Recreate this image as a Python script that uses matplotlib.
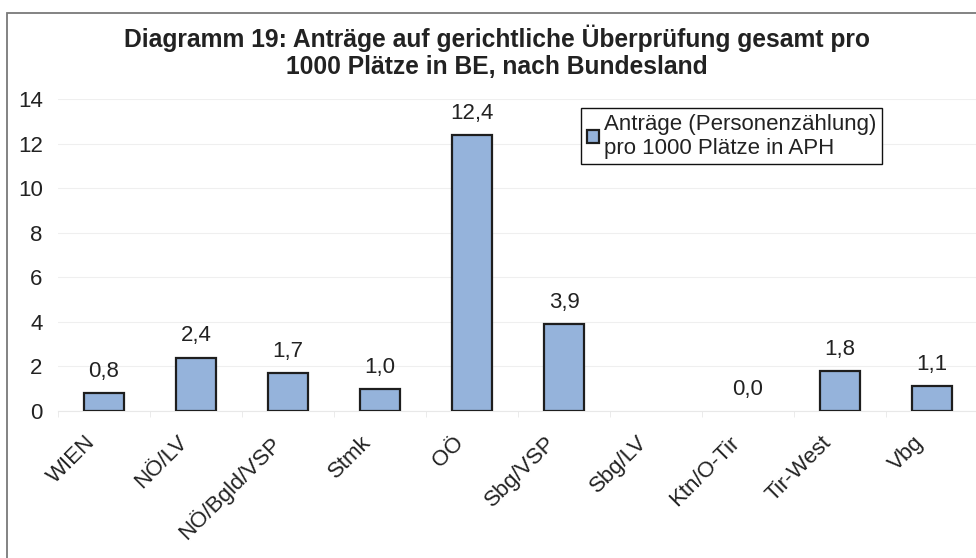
import numpy as np
import matplotlib
matplotlib.use("Agg")
import matplotlib.pyplot as plt
import matplotlib.transforms as mtransforms
from matplotlib.patches import Rectangle

plt.rcParams['font.family'] = ['Liberation Sans', 'DejaVu Sans']

categories = ["WIEN", "NÖ/LV", "NÖ/Bgld/VSP", "Stmk", "OÖ", "Sbg/VSP",
              "Sbg/LV", "Ktn/O-Tir", "Tir-West", "Vbg"]
values = [0.8, 2.4, 1.7, 1.0, 12.4, 3.9, np.nan, 0.0, 1.8, 1.1]
yticks = [0, 2, 4, 6, 8, 10, 12, 14]
series_name = "Anträge (Personenzählung)\npro 1000 Plätze in APH"
title = "Diagramm 19: Anträge auf gerichtliche Überprüfung gesamt pro\n1000 Plätze in BE, nach Bundesland"

W, H = 976, 558
fig = plt.figure(figsize=(W / 100, H / 100), dpi=100)
fig.patch.set_facecolor('white')

# outer frame
fig.add_artist(Rectangle((7 / W, -0.1), 1.2, 1 - 13 / H + 0.1,
                         transform=fig.transFigure, fill=False,
                         edgecolor='#7a7a7a', linewidth=1.3))

ax = fig.add_axes([58 / W, 1 - 411 / H, (978 - 58) / W, (411 - 99) / H])
x = np.arange(len(categories))
bars = ax.bar(x, values, width=0.44, color='#95B3DB', edgecolor='#1e1e1e',
              linewidth=1.6, label=series_name, zorder=3)
for b, v in zip(bars, values):
    if v == 0:
        b.set_linewidth(0)
labels = ['' if np.isnan(v) else f"{v:.1f}".replace('.', ',') for v in values]
ax.bar_label(bars, labels=labels, padding=8, fontsize=16, color='#222222')

ax.set_xlim(-0.5, len(categories) - 0.5)
ax.set_ylim(0, 14)
ax.set_yticks(yticks)
ax.set_yticklabels([str(t) for t in yticks], fontsize=16, color='#222222')
ax.set_xticks(x)
ax.set_xticklabels([])
# category labels, rotated, placed just below the axis
offset = mtransforms.ScaledTranslation(-19 / 100, -21 / 100, fig.dpi_scale_trans)
for xi, cat in zip(x, categories):
    ax.text(xi, 0, cat, transform=ax.get_xaxis_transform() + offset,
            rotation=45, ha='right', va='top', rotation_mode='anchor',
            fontsize=16, color='#222222')
ax.set_xticks(np.arange(-0.5, len(categories), 1), minor=True)
ax.tick_params(axis='x', which='major', length=0)
ax.tick_params(axis='x', which='minor', length=4, color='#e8e8e8')
ax.tick_params(axis='y', length=0, pad=11)
ax.grid(axis='y', color='#efefef', linewidth=0.8, zorder=0)
for s in ['top', 'right', 'left']:
    ax.spines[s].set_visible(False)
ax.spines['bottom'].set_color('#e8e8e8')

fig.text(497 / W, 1 - 25 / H, title, ha='center', va='top', fontsize=17.7,
         fontweight='bold', color='#222222', linespacing=1.12)

leg = ax.legend(loc='upper left', bbox_to_anchor=(581 / W, 1 - 108 / H),
                bbox_transform=fig.transFigure, fontsize=16,
                frameon=True, fancybox=False, edgecolor='#111111',
                framealpha=1, borderpad=0.25, handlelength=0.55,
                handleheight=0.55, handletextpad=0.25, borderaxespad=0)
leg.get_frame().set_linewidth(1.0)
for t in leg.get_texts():
    t.set_color('#222222')

fig.savefig('out.png', dpi=100, facecolor='white')
